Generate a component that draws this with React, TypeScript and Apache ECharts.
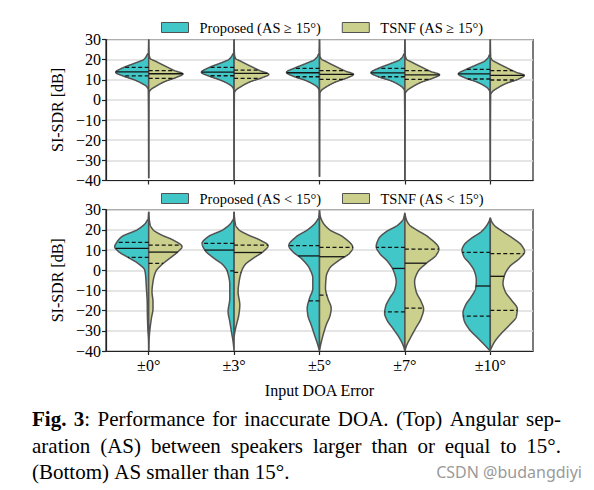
import React, { useEffect, useRef } from "react";
import * as echarts from "echarts";

// ---------------- data ----------------
const CATEGORIES = ["±0°", "±3°", "±5°", "±7°", "±10°"];
const Y_MIN = -40;
const Y_MAX = 30;
const Y_STEP = 10;

const TOP_NAMES = ["Proposed (AS ≥ 15°)", "TSNF (AS ≥ 15°)"];
const BOTTOM_NAMES = ["Proposed (AS < 15°)", "TSNF (AS < 15°)"];

// Violin outlines: [SI-SDR dB, half-width reading]
const TOP_PROPOSED_PROFILES: number[][][] = [
  [[30,0],[24,0.3],[22.3,1.7],[20.2,4.7],[18.2,14],[16.2,24.7],[13.7,33],[11.9,25.7],[9.9,14],[8.3,7.3],[6.6,2],[5,0.4],[-38.9,0]],
  [[30,0],[24,0.3],[22.3,1.7],[20.2,5],[18.2,14],[16.2,24.5],[13.7,32.7],[11.9,25.5],[9.9,14],[8.3,7],[6.6,2],[5,0.4],[-40,0]],
  [[30,0],[24,0.3],[22,1.7],[20,5],[18,14],[16,24],[13.7,33],[11.7,26],[9.7,14],[8,7],[6.3,2],[4.7,0.4],[-38.1,0]],
  [[30,0],[24,0.3],[22,1.7],[20,5],[18,14.5],[16,25],[13.5,34],[11.5,26.5],[9.5,14],[7.8,7],[6,2],[4.5,0.4],[-40,0]],
  [[30,0],[23.5,0.3],[21.5,1.7],[19.5,5],[17.5,13.5],[15.3,23.5],[12.9,32],[10.9,25],[9,14],[7.3,7],[5.5,2],[3.8,0.4],[-40,0]],
];
const TOP_TSNF_PROFILES: number[][][] = [
  [[30,0],[23,0.3],[20.7,1.3],[19,7.7],[16.5,17.7],[14.5,26],[12.9,34.3],[11.2,27.7],[9.1,16],[6.9,7.7],[4.9,1.7],[3.5,0.3],[-38.9,0]],
  [[30,0],[23,0.3],[20.7,1.3],[19,7.5],[16.5,17.5],[14.5,26],[12.7,34.7],[11,28],[9,16],[6.8,7.5],[4.8,1.7],[3.5,0.3],[-40,0]],
  [[30,0],[22.5,0.3],[20.5,1.5],[18.8,7.5],[16.3,17.5],[14.3,26],[12.7,34],[11,28],[8.9,16],[6.7,7.5],[4.6,1.7],[3.2,0.3],[-38.1,0]],
  [[30,0],[22.5,0.3],[20.3,1.5],[18.6,7.5],[16.1,17.5],[14.1,26],[12.5,34.7],[10.8,28],[8.7,16],[6.5,7.5],[4.4,1.7],[3,0.3],[-40,0]],
  [[30,0],[22,0.3],[20,1.5],[18.2,7.5],[15.7,17.5],[13.7,26],[12.2,34],[10.3,28],[8.2,16],[6,7.5],[3.9,1.7],[2.5,0.3],[-40,0]],
];
const BOTTOM_PROPOSED_PROFILES: number[][][] = [
  [[29,0],[26,0.5],[23.5,3],[20.1,11.3],[16.6,27],[13.8,32],[11.7,34],[9.2,30],[6.4,20.7],[3.4,10.7],[0.1,4],[-3.2,3],[-9,2.3],[-15.6,1.5],[-22.2,1.3],[-30.4,0.7],[-34,0.2],[-40,0]],
  [[29,0],[26,0.5],[23.5,3],[20.1,11],[16.6,26],[13.3,32],[10,29.3],[5.9,20],[2.6,11],[-0.7,6.7],[-7.3,4.3],[-13.9,4.3],[-20.5,6],[-25.5,4.3],[-30.4,2.7],[-35.4,1],[-40,0]],
  [[29.7,0],[26.5,0.7],[24,3.3],[20.1,11.7],[16.6,23.3],[12.2,30.7],[9.2,26.7],[5.9,18.3],[0.9,10],[-4,6.7],[-9,6.7],[-13.9,10],[-18.9,12.3],[-22.2,11.7],[-27.1,8.3],[-32.1,5],[-37,1.7],[-40,0]],
  [[28.5,0],[25.5,1.5],[22.4,7],[19.1,18.7],[15.8,26],[11.7,28.7],[8.4,25.3],[4.2,17],[-0.7,11],[-5.7,8.7],[-9.8,10.3],[-13.9,15.3],[-18,19.3],[-21.3,20.3],[-24.6,18],[-28.8,12],[-33.7,5.3],[-37.5,1.5],[-40,0]],
  [[26,0],[24.5,1],[22.4,3.3],[19.1,9],[15.8,19],[12.5,26.3],[10,28.3],[6.7,26.3],[3.4,20.7],[-0.7,15.7],[-4.8,14],[-9,14.7],[-13.1,19],[-17.2,24.7],[-21.3,27.3],[-24.6,26.3],[-28.8,21.7],[-33.7,12.3],[-37,5.7],[-40,0]],
];
const BOTTOM_TSNF_PROFILES: number[][][] = [
  [[29,0],[25.5,0.5],[22.5,1.5],[20.1,4.3],[17.5,12.7],[15,24.3],[11.7,33.3],[9.2,29.3],[5.9,21],[2.6,12.7],[-0.7,7],[-5.7,4.3],[-10.6,3.3],[-15.6,4.3],[-18.9,4.3],[-23.8,2.7],[-30.4,1],[-35,0.3],[-40,0]],
  [[29,0],[25.5,0.5],[22.5,1.5],[20.1,4.7],[17.5,14],[15,25.7],[12.2,34],[9.2,29],[5.9,19],[2.6,10.7],[-0.7,7.3],[-5.7,5],[-10.6,4],[-17.2,5.7],[-22.2,4.7],[-27.1,2.3],[-30.4,0.8],[-33,0]],
  [[29.7,0],[27.4,0.5],[24,3],[20.1,10],[16.6,23.3],[11.2,33.3],[8.4,30],[5.1,20],[0.9,10],[-3.2,6.7],[-9,6],[-13.9,8.3],[-18.9,11.7],[-22.2,10.7],[-27.1,6.7],[-33.7,2.7],[-39.5,0]],
  [[28,0],[25,1.5],[22.5,4.5],[20.1,11.3],[16.6,23],[10.5,34],[7.5,31.3],[3.4,21.3],[-0.7,13],[-5.7,9.7],[-10.6,11.3],[-15.6,16.3],[-19.2,18.7],[-23.8,16.3],[-28.8,10.7],[-33.7,5.3],[-37.5,1.5],[-40,0]],
  [[26,0],[24.5,1],[22.4,3.7],[19.1,12.7],[15.8,22.7],[12.5,31],[9.2,34.3],[5.9,29.3],[1.8,19.3],[-2.4,14.3],[-6.5,12.7],[-10.6,15],[-14.7,21],[-19.2,27],[-23,26],[-27.1,19.3],[-31.3,11],[-35.4,4.3],[-39.5,0]],
];

// Quartiles [Q1, median, Q3]
const TOP_PROPOSED_QUARTILES = [[11.9,13.9,16.2],[12.0,13.8,16.2],[11.5,13.5,15.7],[11.5,13.4,15.7],[10.4,12.9,15.2]];
const TOP_TSNF_QUARTILES = [[10.7,13.0,14.5],[10.7,13.2,14.8],[10.2,12.7,14.5],[10.2,12.4,14.5],[9.9,12.2,14.5]];
const BOTTOM_PROPOSED_QUARTILES = [[6.4,10.8,13.8],[-0.3,10.0,13.3],[-15.2,7.1,12.2],[-20.6,0.9,11.3],[-22.7,-7.8,8.9]];
const BOTTOM_TSNF_QUARTILES = [[3.4,9.0,12.5],[-1.0,8.8,12.5],[-12.3,6.7,11.3],[-18.8,3.5,10.5],[-19.9,-3.0,8.2]];

const CAPTION_LINES = [
  { text: "**Fig.** **3**: Performance for inaccurate DOA. (Top) Angular sep-", justify: true },
  { text: "aration (AS) between speakers larger than or equal to 15°.", justify: true },
  { text: "(Bottom) AS smaller than 15°.", justify: false },
];
const WATERMARK = "CSDN @budangdiyi";

// ---------------- style ----------------
const TEAL = "#41c7c7";
const OLIVE = "#cbd08c";
const OUTLINE = "#525252";
const SERIF = "Liberation Serif";
const WIDTH_UNIT = 1 / 85.4; // half-width reading -> fraction of category band

function makeProfile(knots: number[][]) {
  const pts = [...knots].sort((a, b) => a[0] - b[0]);
  const n = pts.length;
  const x = pts.map((p) => p[0]);
  const y = pts.map((p) => p[1]);
  const h: number[] = [];
  const d: number[] = [];
  for (let i = 0; i < n - 1; i++) {
    h.push(x[i + 1] - x[i]);
    d.push((y[i + 1] - y[i]) / h[i]);
  }
  const m = new Array(n).fill(0);
  m[0] = d[0];
  m[n - 1] = d[n - 2];
  for (let i = 1; i < n - 1; i++) {
    if (d[i - 1] * d[i] <= 0) m[i] = 0;
    else {
      const w1 = 2 * h[i] + h[i - 1];
      const w2 = h[i] + 2 * h[i - 1];
      m[i] = (w1 + w2) / (w1 / d[i - 1] + w2 / d[i]);
    }
  }
  const f = (v: number) => {
    if (v <= x[0]) return y[0];
    if (v >= x[n - 1]) return y[n - 1];
    let i = 0;
    while (i < n - 2 && v > x[i + 1]) i++;
    const t = (v - x[i]) / h[i];
    const t2 = t * t;
    const t3 = t2 * t;
    const r =
      (2 * t3 - 3 * t2 + 1) * y[i] +
      (t3 - 2 * t2 + t) * h[i] * m[i] +
      (-2 * t3 + 3 * t2) * y[i + 1] +
      (t3 - t2) * h[i] * m[i + 1];
    return Math.max(0, r);
  };
  return { f, lo: x[0], hi: x[n - 1] };
}

function violinSeries(
  name: string,
  gridIdx: number,
  profiles: number[][][],
  quartiles: number[][],
  color: string,
  side: number
) {
  const made = profiles.map(makeProfile);
  return {
    name,
    type: "custom",
    xAxisIndex: gridIdx,
    yAxisIndex: gridIdx,
    itemStyle: { color, borderColor: OUTLINE, borderWidth: 1 },
    encode: { x: 0, y: 1 },
    data: CATEGORIES.map((_, i) => [i, 0]),
    renderItem: (params: any, api: any) => {
      const idx = api.value(0);
      const p = made[idx];
      const band = api.size([1, 0])[0];
      const cx = api.coord([idx, 0])[0];
      const scale = band * WIDTH_UNIT;
      const pts: number[][] = [];
      for (let v = p.hi; v >= p.lo - 1e-9; v -= 0.1) {
        const yy = api.coord([idx, v])[1];
        pts.push([cx + side * p.f(v) * scale, yy]);
      }
      pts.push([cx + side * p.f(p.lo) * scale, api.coord([idx, p.lo])[1]]);
      pts.push([cx, api.coord([idx, p.lo])[1]]);
      pts.push([cx, api.coord([idx, p.hi])[1]]);
      const q = quartiles[idx];
      const lines = q.map((val, k) => {
        const yy = api.coord([idx, val])[1];
        const w = p.f(val) * scale;
        return {
          type: "line",
          shape: { x1: cx, y1: yy, x2: cx + side * w, y2: yy },
          style: {
            stroke: "#151515",
            lineWidth: 1.3,
            lineDash: k === 1 ? null : [4, 2.5],
          },
          z2: 5,
        };
      });
      return {
        type: "group",
        children: [
          {
            type: "polygon",
            shape: { points: pts },
            style: { fill: color, stroke: OUTLINE, lineWidth: 1.5 },
          },
          ...lines,
        ],
      };
    },
  };
}

function parseRuns(word: string) {
  const parts = word.split("**");
  return parts
    .map((t, i) => ({ t, b: i % 2 === 1 }))
    .filter((r) => r.t.length > 0);
}

function buildCaption() {
  const canvas = document.createElement("canvas");
  const ctx = canvas.getContext("2d") as CanvasRenderingContext2D;
  const size = 21;
  const measure = (t: string, b: boolean) => {
    ctx.font = `${b ? "bold " : ""}${size}px "Liberation Serif"`;
    return ctx.measureText(t).width;
  };
  const left = 32;
  const right = 561;
  const ys = [419, 445.5, 472];
  const els: any[] = [];
  CAPTION_LINES.forEach((line, li) => {
    const words = line.text.split(" ").map(parseRuns);
    const widths = words.map((runs) => runs.reduce((s, r) => s + measure(r.t, r.b), 0));
    const total = widths.reduce((s, w) => s + w, 0);
    const gap = line.justify ? (right - left - total) / (words.length - 1) : measure(" ", false);
    let x = left;
    words.forEach((runs, wi) => {
      let rx = x;
      runs.forEach((r) => {
        els.push({
          type: "text",
          x: rx,
          y: ys[li],
          style: {
            text: r.t,
            fontSize: size,
            fontFamily: SERIF,
            fontWeight: r.b ? "bold" : "normal",
            fill: "#000",
            textAlign: "left",
            textVerticalAlign: "middle",
          },
        });
        rx += measure(r.t, r.b);
      });
      x += widths[wi] + gap;
    });
  });
  els.push({
    type: "text",
    x: 582,
    y: 472,
    style: {
      text: WATERMARK,
      fontSize: 16,
      fontFamily: "Noto Sans",
      fill: "#9a9a9a",
      textAlign: "right",
      textVerticalAlign: "middle",
    },
  });
  return els;
}

export default function App() {
  const ref = useRef<HTMLDivElement>(null);
  useEffect(() => {
    if (!ref.current) return;
    const chart = echarts.init(ref.current, undefined, { renderer: "svg" });
    const axisText = { fontFamily: SERIF, fontSize: 16, color: "#000" };
    const grids = [
      { left: 106, top: 39.5, width: 427, height: 141 },
      { left: 106, top: 209.7, width: 427, height: 141.3 },
    ];
    const xAxes = grids.map((_, gi) => ({
      type: "category",
      gridIndex: gi,
      data: CATEGORIES,
      axisLine: { onZero: false, lineStyle: { color: "#222", width: 1.2 } },
      axisTick: { show: true, alignWithLabel: true, length: 4, lineStyle: { color: "#222", width: 1.2 } },
      axisLabel: { show: gi === 1, ...axisText, margin: 6 },
      name: gi === 1 ? "Input DOA Error" : "",
      nameLocation: "middle",
      nameGap: 31,
      nameTextStyle: { ...axisText },
    }));
    const yAxes = grids.map((_, gi) => ({
      type: "value",
      gridIndex: gi,
      min: Y_MIN,
      max: Y_MAX,
      interval: Y_STEP,
      axisLine: { show: true, onZero: false, lineStyle: { color: "#222", width: 1.2 } },
      axisTick: { show: true, length: 4, lineStyle: { color: "#222", width: 1.2 } },
      axisLabel: {
        ...axisText,
        margin: 5,
        formatter: (v: number) => String(v).replace("-", "\u2212"),
      },
      splitLine: { show: true, lineStyle: { color: "#dddddd", width: 1.5 } },
      name: "SI-SDR [dB]",
      nameLocation: "middle",
      nameGap: 38,
      nameTextStyle: { ...axisText },
    }));
    const legendBase = {
      icon: "rect",
      itemWidth: 27,
      itemHeight: 10,
      itemGap: 21,
      itemStyle: { borderColor: OUTLINE, borderWidth: 1 },
      textStyle: { fontFamily: SERIF, fontSize: 14.5, color: "#000", padding: [0, 0, 0, 6] },
      selectedMode: false,
    };
    chart.setOption({
      animation: false,
      backgroundColor: "#ffffff",
      grid: grids.map((g) => ({ ...g, show: true, borderColor: "#222", borderWidth: 1.2, backgroundColor: "transparent" })),
      legend: [
        { ...legendBase, data: TOP_NAMES, left: 156, top: 15 },
        { ...legendBase, data: BOTTOM_NAMES, left: 156, top: 186 },
      ],
      xAxis: xAxes,
      yAxis: yAxes,
      series: [
        violinSeries(TOP_NAMES[0], 0, TOP_PROPOSED_PROFILES, TOP_PROPOSED_QUARTILES, TEAL, -1),
        violinSeries(TOP_NAMES[1], 0, TOP_TSNF_PROFILES, TOP_TSNF_QUARTILES, OLIVE, 1),
        violinSeries(BOTTOM_NAMES[0], 1, BOTTOM_PROPOSED_PROFILES, BOTTOM_PROPOSED_QUARTILES, TEAL, -1),
        violinSeries(BOTTOM_NAMES[1], 1, BOTTOM_TSNF_PROFILES, BOTTOM_TSNF_QUARTILES, OLIVE, 1),
      ],
      graphic: buildCaption(),
    });
    return () => chart.dispose();
  }, []);
  return (
    <div
      ref={ref}
      style={{ position: "fixed", left: 0, top: 0, width: 594, height: 490, background: "#fff" }}
    />
  );
}
